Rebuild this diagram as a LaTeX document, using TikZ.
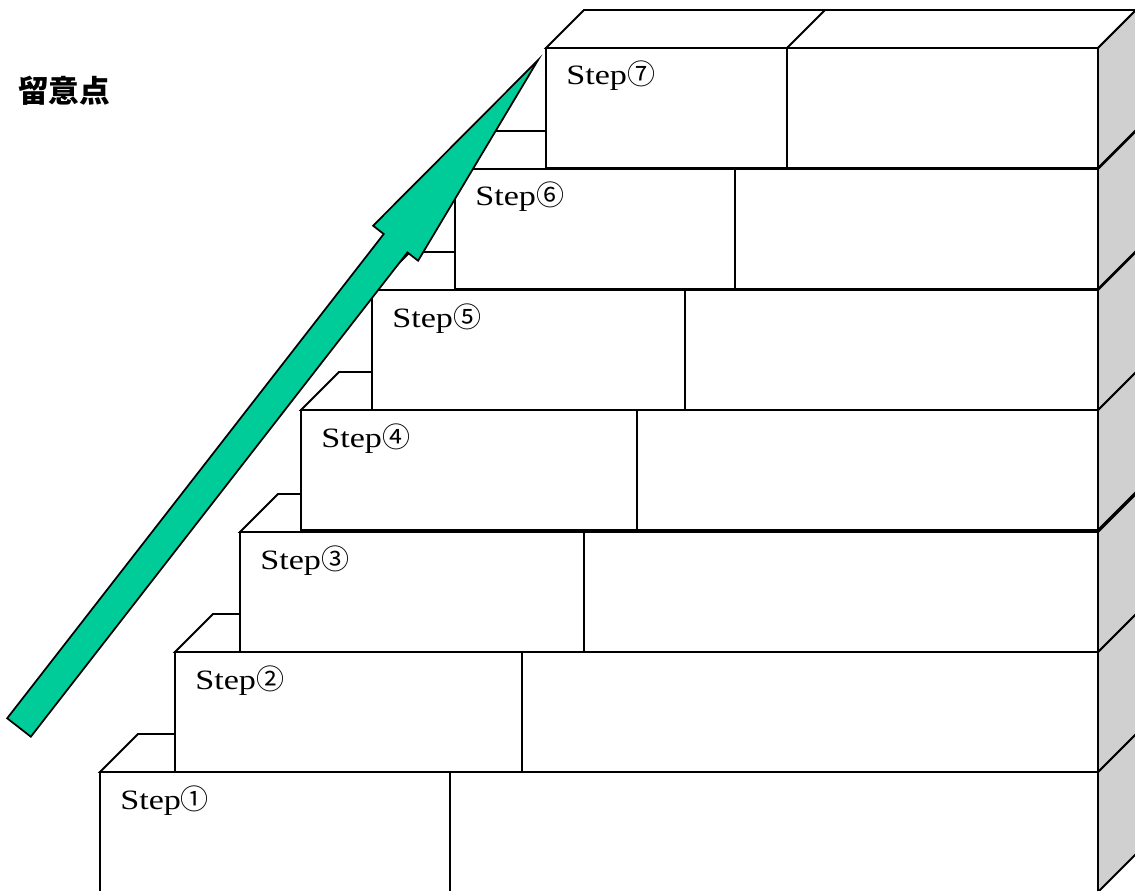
\documentclass[tikz,border=0pt]{standalone}
\usepackage{fontspec}
\setmainfont{Liberation Serif}
\newfontfamily\jpfont{Noto Sans CJK JP}
\newfontfamily\stepfont[FakeStretch=1.22]{Liberation Serif}
\usetikzlibrary{calc}
\definecolor{arrowgreen}{RGB}{0,204,153}
\definecolor{sidegray}{RGB}{208,208,208}
\newcommand{\steplabel}[1]{{\stepfont Step}{\jpfont #1}}

\begin{document}
\begin{tikzpicture}[x=0.75pt,y=-0.75pt,line join=miter,
    face/.style={draw=black, line width=1.4pt, fill=white},
    side/.style={face, fill=sidegray}]
    \tikzset{steptext/.style={anchor=base west, inner sep=0pt, font=\fontsize{21}{21}\selectfont}}
    \tikzset{arrowbody/.style={draw=black, line width=1.3pt, fill=arrowgreen}}
    \useasboundingbox (0,0) rectangle (1135,891);
    \clip (0,0) rectangle (1135,891);
    \def \dx {38} \def \dy {-38} \def \h {120} \def \rx {1098}
    % one slab per step: number / left edge / divider / top edge / label
    \foreach \n/\lx/\mx/\ty/\c in {1/100/450/772/①, 2/175/522/652/②, 3/240/584/532/③,
        4/301/637/410/④, 5/372/685/290/⑤, 6/455/735/169/⑥, 7/546/787/48/⑦} {
    \draw[face] (\lx,\ty) -- ++(\dx,\dy) -- (\rx+\dx,\ty+\dy) -- (\rx,\ty) -- cycle;
    \draw[face] (\mx,\ty) -- ++(\dx,\dy);
    \draw[side] (\rx,\ty) -- ++(\dx,\dy) -- ++(0,\h) -- (\rx,\ty+\h) -- cycle;
    \draw[face] (\lx,\ty) rectangle (\mx,\ty+\h);
    \draw[face] (\mx,\ty) rectangle (\rx,\ty+\h);
    \node[steptext] (step\n) at (\lx+20,\ty+37) {\steplabel{\c}};
    }

    \node[anchor=west, inner sep=0pt, font=\jpfont\bfseries\fontsize{23}{23}\selectfont] (title) at (18,91) {留意点};

    % rising arrow, drawn along its own axis
    \coordinate (tail) at (19,727.5);
    \coordinate (tip) at (538,60);
    \begin{scope}[shift={(tail)}, rotate=52.13]
    \draw[arrowbody] (0,-15) -- (613.5,-15) -- (613.5,-28.5) -- (845.5,0)
        -- (613.5,28.5) -- (613.5,15) -- (0,15) -- cycle;
    \end{scope}
\end{tikzpicture}
\end{document}
